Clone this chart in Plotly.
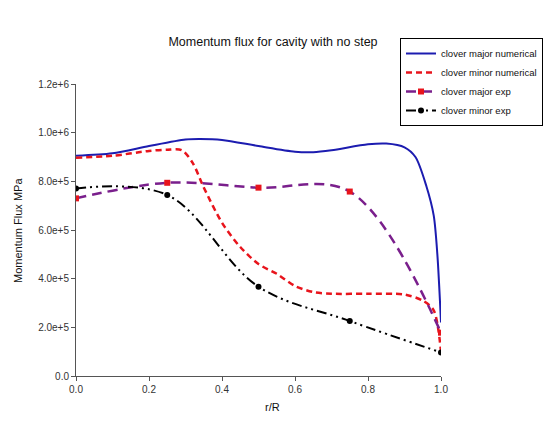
import plotly.graph_objects as go

# Numerical curves
maj_num_x = [0, 0.1, 0.2, 0.3, 0.34, 0.4, 0.5, 0.6, 0.65, 0.7, 0.8, 0.85, 0.9, 0.93, 0.96, 0.98, 0.99, 1.0]
maj_num_y = [9.05e5, 9.15e5, 9.45e5, 9.72e5, 9.74e5, 9.70e5, 9.45e5, 9.22e5, 9.20e5, 9.28e5, 9.52e5, 9.55e5, 9.40e5, 9.00e5, 7.80e5, 6.60e5, 5.00e5, 2.20e5]

min_num_x = [0, 0.1, 0.2, 0.25, 0.29, 0.32, 0.35, 0.4, 0.45, 0.5, 0.55, 0.6, 0.65, 0.7, 0.8, 0.9, 0.95, 0.98, 1.0]
min_num_y = [8.97e5, 9.05e5, 9.25e5, 9.30e5, 9.28e5, 8.75e5, 7.75e5, 6.30e5, 5.30e5, 4.60e5, 4.20e5, 3.70e5, 3.45e5, 3.38e5, 3.38e5, 3.35e5, 3.10e5, 2.70e5, 1.00e5]

# Experimental points
exp_x = [0.0, 0.25, 0.5, 0.75, 1.0]
maj_exp_y = [7.30e5, 7.94e5, 7.74e5, 7.58e5, 1.78e5]
min_exp_y = [7.71e5, 7.44e5, 3.67e5, 2.26e5, 0.97e5]

y_ticks = [0, 2e5, 4e5, 6e5, 8e5, 1e6, 1.2e6]
y_tick_text = ["0.0", "2.0e+5", "4.0e+5", "6.0e+5", "8.0e+5", "1.0e+6", "1.2e+6"]
x_ticks = [0, 0.2, 0.4, 0.6, 0.8, 1.0]

fig = go.Figure()
fig.add_trace(go.Scatter(x=maj_num_x, y=maj_num_y, mode="lines", name="clover major numerical",
                         line=dict(color="#1c1cb0", width=2, shape="spline", smoothing=0.8)))
fig.add_trace(go.Scatter(x=min_num_x, y=min_num_y, mode="lines", name="clover minor numerical",
                         line=dict(color="#e8141c", width=2.5, dash="6px,4px", shape="spline", smoothing=0.8)))
fig.add_trace(go.Scatter(x=exp_x, y=maj_exp_y, mode="lines+markers", name="clover major exp",
                         line=dict(color="#7a1f8c", width=2.5, dash="10px,6px", shape="spline", smoothing=1.0),
                         marker=dict(symbol="square", color="#e8141c", size=6)))
fig.add_trace(go.Scatter(x=exp_x, y=min_exp_y, mode="lines+markers", name="clover minor exp",
                         line=dict(color="#000000", width=2, dash="10px,4px,2px,4px,2px,4px", shape="spline", smoothing=1.0),
                         marker=dict(symbol="circle", color="#000000", size=6)))

fig.update_layout(
    width=546, height=426,
    margin=dict(l=76, r=105, t=84, b=50, autoexpand=False),
    paper_bgcolor="white", plot_bgcolor="white",
    font=dict(family="Liberation Sans, Arial, sans-serif", size=10, color="#333333"),
    title=dict(text="Momentum flux for cavity with no step", x=0.5, xanchor="center",
               y=1 - 42 / 426, yanchor="middle", font=dict(size=12.5, color="#111111")),
    showlegend=True,
    legend=dict(x=(543 - 76) / 365, y=(376 - 38) / 292, xanchor="right", yanchor="top",
                bordercolor="#000000", borderwidth=1, bgcolor="white",
                font=dict(size=9.5, color="#111111"), tracegroupgap=0, itemwidth=30),
    xaxis=dict(range=[0, 1], tickvals=x_ticks, tickformat=".1f", showgrid=False, zeroline=False,
               showline=True, linecolor="#555555", linewidth=1, ticks="outside", ticklen=4,
               tickcolor="#555555", tickfont=dict(size=10, color="#333333")),
    yaxis=dict(range=[0, 1.2e6], tickvals=y_ticks, ticktext=y_tick_text, showgrid=False, zeroline=False,
               showline=True, linecolor="#555555", linewidth=1, ticks="outside", ticklen=4,
               tickcolor="#555555", tickfont=dict(size=10, color="#333333")),
    annotations=[
        dict(text="r/R", xref="paper", yref="paper", x=(272 - 76) / 365, y=-(407 - 376) / 292,
             xanchor="center", yanchor="middle", showarrow=False, font=dict(size=11, color="#111111")),
        dict(text="Momentum Flux MPa", xref="paper", yref="paper", x=-(76 - 18) / 365, y=0.5,
             xanchor="center", yanchor="middle", textangle=-90, showarrow=False,
             font=dict(size=11, color="#111111")),
    ],
)

fig.write_html("out.html")
